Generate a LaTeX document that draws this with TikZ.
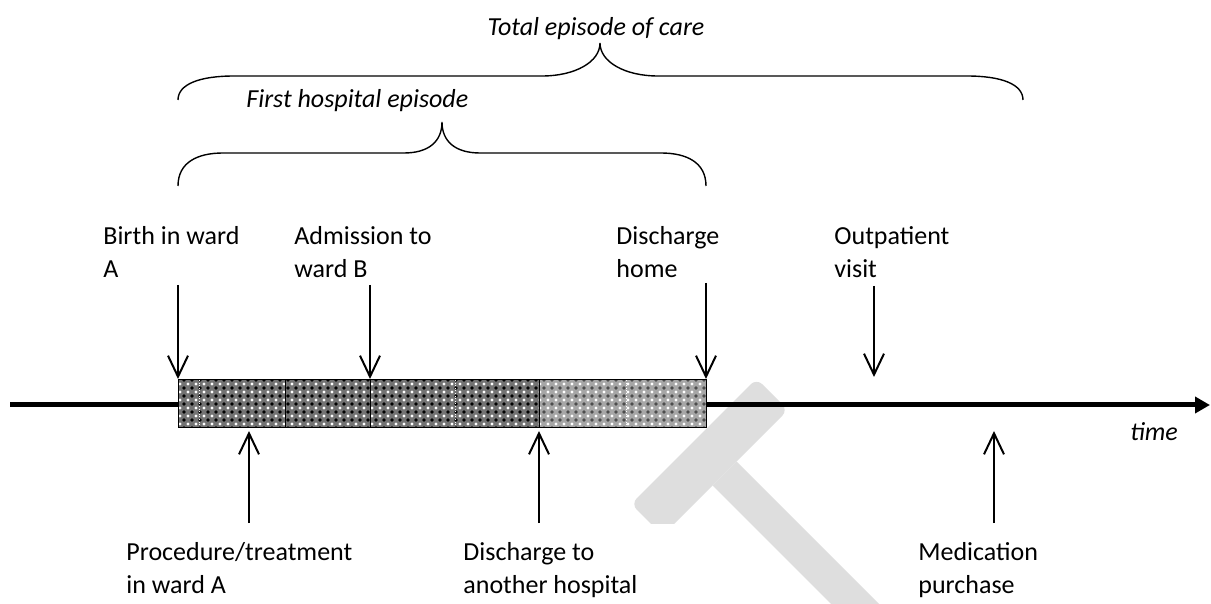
\documentclass[tikz,border=0pt]{standalone}
\usepackage{fontspec}
\setmainfont{Carlito}
\usetikzlibrary{arrows.meta,patterns}

\pgfdeclarepatternformonly{corner dots}{\pgfqpoint{-1pt}{-1pt}}{\pgfqpoint{1pt}{1pt}}{\pgfqpoint{4pt}{4pt}}{%
    \pgfpathcircle{\pgfpointorigin}{0.9pt}\pgfusepath{fill}}
\pgfdeclarepatternformonly{centre dots}{\pgfqpoint{1pt}{1pt}}{\pgfqpoint{3pt}{3pt}}{\pgfqpoint{4pt}{4pt}}{%
    \pgfpathcircle{\pgfqpoint{2pt}{2pt}}{0.8pt}\pgfusepath{fill}}

\begin{document}
\begin{tikzpicture}[x=0.5pt,y=-0.5pt,
    event/.style={align=left,anchor=base west,inner sep=0pt,font=\fontsize{13}{16.5}\selectfont},
    span label/.style={inner sep=0pt,anchor=base,font=\fontsize{13}{16.5}\selectfont\itshape},
    pointer/.style={-{Straight Barb[length=10.5pt,width=10pt]},line width=1pt},
    brace line/.style={line width=0.7pt},
    watermark/.style={fill=black!13}]
    \useasboundingbox (0,0) rectangle (1211,604);

    % watermark behind everything
    \begin{scope}
        \clip (0,0) rectangle (1211,523);
        \fill[watermark,rounded corners=4pt] (631,504) -- (756.5,378.5) -- (788,410) -- (662.5,535.5) -- cycle;
    \end{scope}
    \fill[watermark] (712.5,485.5) -- (736.5,461.5) -- (917.5,642.5) -- (893.5,666.5) -- cycle;

    % time axis
    \coordinate (t0) at (10,405);
    \coordinate (t1) at (1210,405);
    \draw[line width=2.5pt,-{Triangle[length=7.5pt,width=8pt]}] (t0) -- (t1);
    \node[span label,anchor=base west] (time) at (1130,440) {time};

    % stay bar, ward A then ward B
    \fill[black!55] (178,380) rectangle (539,428);
    \fill[pattern=corner dots,pattern color=black] (178,380) rectangle (539,428);
    \fill[pattern=centre dots,pattern color=white] (178,380) rectangle (539,428);
    \fill[black!35] (539,380) rectangle (706,428);
    \fill[pattern=corner dots,pattern color=black!70] (539,380) rectangle (706,428);
    \fill[pattern=centre dots,pattern color=white] (539,380) rectangle (706,428);
    \draw[white,densely dotted,line width=0.3pt] (199,380) -- (199,428) (455,380) -- (455,428) (626,380) -- (626,428);
    \draw[black,line width=0.3pt] (285,380) -- (285,428) (370,380) -- (370,428);
    \draw[line width=0.5pt] (178,380) rectangle (706,428) (539,380) -- (539,428);

    % events above the axis
    \node[event] (birth) at (103,278) {Birth in ward\\A};
    \node[event] (admission) at (294,278) {Admission to\\ward B};
    \node[event] (home) at (616,278) {Discharge\\home};
    \node[event] (outpatient) at (834,278) {Outpatient\\visit};
    \coordinate (birth top) at (178,285);
    \coordinate (birth end) at (178,379);
    \coordinate (admission top) at (370,285);
    \coordinate (admission end) at (370,379);
    \coordinate (home top) at (706,283);
    \coordinate (home end) at (706,379);
    \coordinate (outpatient top) at (874,286);
    \coordinate (outpatient end) at (874,377);
    \draw[pointer] (birth top) -- (birth end);
    \draw[pointer] (admission top) -- (admission end);
    \draw[pointer] (home top) -- (home end);
    \draw[pointer] (outpatient top) -- (outpatient end);

    % events below the axis
    \node[event] (procedure) at (126,593) {Procedure/treatment\\in ward A};
    \node[event] (transfer) at (463,593) {Discharge to\\another hospital};
    \node[event] (medication) at (918,593) {Medication\\purchase};
    \coordinate (procedure foot) at (249,523);
    \coordinate (procedure end) at (249,431);
    \coordinate (transfer foot) at (539,523);
    \coordinate (transfer end) at (539,431);
    \coordinate (medication foot) at (994,523);
    \coordinate (medication end) at (994,431);
    \draw[pointer] (procedure foot) -- (procedure end);
    \draw[pointer] (transfer foot) -- (transfer end);
    \draw[pointer] (medication foot) -- (medication end);

    % braces
    \node[span label] (total) at (596,36) {Total episode of care};
    \draw[brace line] (178,100) .. controls (178,84) and (200,76) .. (234,76) -- (542,76)
        .. controls (575,76) and (600,62) .. (600,43) .. controls (600,62) and (625,76) .. (658,76)
        -- (967,76) .. controls (1001,76) and (1023,84) .. (1023,100);
    \node[span label,anchor=base west] (first) at (246,108) {First hospital episode};
    \draw[brace line] (178,186) .. controls (178,162) and (198,153) .. (223,153) -- (404,153)
        .. controls (428,153) and (442,142) .. (442,122) .. controls (442,142) and (456,153) .. (480,153)
        -- (661,153) .. controls (686,153) and (706,162) .. (706,186);
\end{tikzpicture}
\end{document}
